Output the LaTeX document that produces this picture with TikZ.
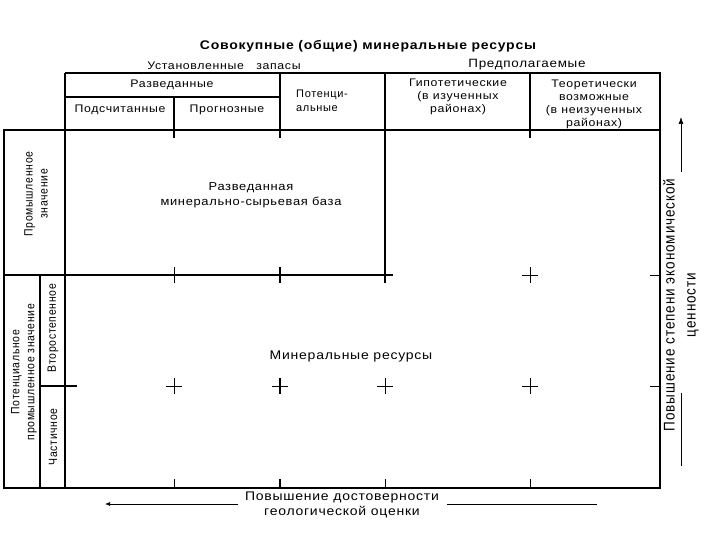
\documentclass[tikz,border=0pt]{standalone}
\usepackage{fontspec}
\setmainfont{Liberation Sans}
\newfontfamily\lsp[LetterSpace=6]{Liberation Sans}
\newfontfamily\lsw[LetterSpace=6, FakeStretch=1.12]{Liberation Sans}
\newfontfamily\lsn[LetterSpace=6, FakeStretch=0.87]{Liberation Sans}
\usetikzlibrary{arrows.meta}
\begin{document}
\begin{tikzpicture}[x=1pt,y=-1pt,
  every node/.style={inner sep=0pt, align=center},
  txt/.style={font=\lsw\fontsize{11}{13}\selectfont},
  rtxt/.style={font=\lsn\fontsize{12}{15}\selectfont, rotate=90},
  gl/.style={line width=1.1pt, black},
  thick line/.style={line width=2pt, black},
  tk/.style={line width=0.7pt, black}]
\useasboundingbox[fill=white] (0,0) rectangle (720,540);
% frame and grid
\draw[gl] (65,73) -- (660,73) -- (660,488) -- (4,488) -- (4,130) -- (660,130);
\draw[gl] (65,73) -- (65,488);
\draw[gl] (65,97) -- (280,97);
\draw[gl] (174,97) -- (174,138);
\draw[thick line] (280,73) -- (280,138);
\draw[gl] (385,73) -- (385,283);
\draw[gl] (530,73) -- (530,138);
\draw[gl] (4,275) -- (393,275);
\draw[gl] (40,275) -- (40,488);
\draw[gl] (40,386) -- (77,386);
% crosses on y=275
\draw[tk] (174,267) -- (174,283);
\draw[thick line] (280,267) -- (280,283);
\draw[tk] (522,275) -- (538,275) (530,267) -- (530,283);
\draw[tk] (650,275) -- (660,275);
% crosses on y=386
\foreach \x in {174,385,530}{\draw[tk] (\x-8,386) -- (\x+8,386) (\x,378) -- (\x,394);}
\draw[tk] (272,386) -- (288,386);
\draw[thick line] (280,378) -- (280,394);
\draw[tk] (650,386) -- (660,386);
% ticks on bottom
\foreach \x in {174,385,530}{\draw[tk] (\x,479) -- (\x,488);}
\draw[thick line] (280,479) -- (280,488);
% header texts
\node[font=\lsw\fontsize{12.5}{14}\selectfont\bfseries] (title) at (368,46) {Совокупные (общие) минеральные ресурсы};
\node[txt] (ust) at (224,66) {Установленные\ \ \ запасы};
\node[font=\lsw\fontsize{12}{14}\selectfont] (pred) at (527,65) {Предполагаемые};
\node[txt] (razv) at (172,85) {Разведанные};
\node[txt] (podsch) at (120,110) {Подсчитанные};
\node[txt] (progn) at (227,110) {Прогнозные};
\node[font=\lsp\fontsize{11}{14}\selectfont, align=left, anchor=west] (potenc) at (296,101) {Потенци-\\альные};
\node[txt] (gipot) at (458,97) {Гипотетические\\(в изученных\\районах)};
\node[txt] (teor) at (594,104) {Теоретически\\возможные\\(в неизученных\\районах)};
% body texts
\node[font=\lsw\fontsize{11.5}{15}\selectfont] (baza) at (251,195) {Разведанная\\минерально-сырьевая база};
\node[font=\lsw\fontsize{12.5}{15}\selectfont] (minres) at (351,356) {Минеральные ресурсы};
% left labels
\node[rtxt] (prom) at (36,194) {Промышленное\\значение};
\node[rtxt] (potprom) at (24,372) {Потенциальное\\промышленное значение};
\node[rtxt] (vtor) at (53,328) {Второстепенное};
\node[rtxt] (chast) at (53,437) {Частичное};
% right arrow
\node[font=\lsn\fontsize{15.5}{21}\selectfont, rotate=90] (econ) at (681,305) {Повышение степени экономической\\ценности};
\coordinate (etop) at (681,117);
\coordinate (ebot) at (681,466);
\draw[tk] (ebot) -- (681,393);
\draw[tk, -{Latex[length=7pt,width=5pt]}] (681,172) -- (etop);
% bottom arrow
\node[font=\lsw\fontsize{12.5}{15}\selectfont] (dost) at (342,505) {Повышение достоверности\\геологической оценки};
\coordinate (dleft) at (105,504);
\coordinate (dright) at (597,504);
\draw[tk, -{Latex[length=5pt,width=4pt]}] (238,504) -- (dleft);
\draw[tk] (447,504) -- (dright);
\end{tikzpicture}
\end{document}
